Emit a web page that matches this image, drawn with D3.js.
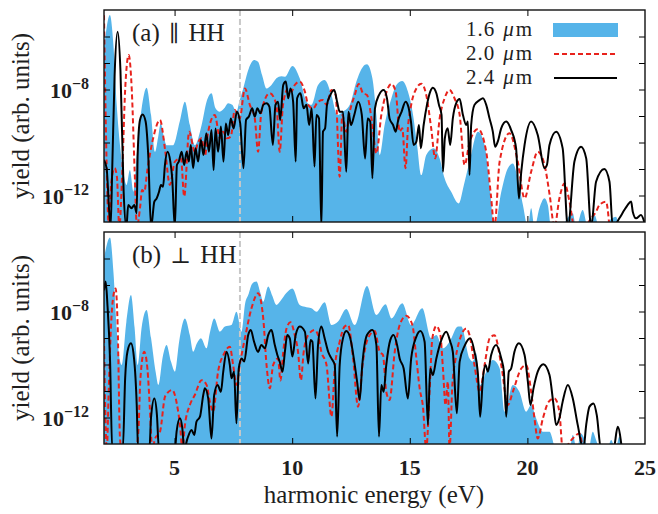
<!DOCTYPE html>
<html><head><meta charset="utf-8">
<script src="https://cdn.jsdelivr.net/npm/d3@7"></script>
<style>
body{margin:0;background:#fff}
svg{display:block}
text{font-family:"Liberation Serif","DejaVu Serif",serif;fill:#1e1e1e}
</style>
</head><body>
<svg id="c" width="658" height="514"></svg>
<script>
// ---- data: [harmonic energy (eV), log10 yield] ----
const aBlue=[[2.0,-6.5],[2.25,-5.19],[2.40,-6.32],[2.54,-8.58],[2.68,-10.1],[2.82,-11.1],[2.96,-11.6],[3.10,-11.04],[3.25,-11.86],[3.39,-10.47],[3.60,-8.71],[3.81,-7.93],[4.0,-8.96],[4.17,-10.35],[4.30,-9.8],[4.41,-9.28],[4.55,-9.8],[4.66,-10.1],[4.94,-10.1],[5.22,-9.21],[5.44,-8.46],[5.65,-9.34],[5.86,-10.1],[6.15,-9.34],[6.36,-8.46],[6.57,-8.14],[6.74,-8.71],[6.92,-8.84],[7.11,-8.71],[7.28,-8.52],[7.45,-8.58],[7.63,-8.84],[7.77,-8.4],[7.92,-7.96],[8.16,-7.2],[8.38,-6.89],[8.55,-6.95],[8.72,-7.45],[8.91,-7.96],[9.12,-7.83],[9.33,-7.58],[9.54,-7.5],[9.69,-7.52],[10.01,-7.11],[10.32,-7.58],[10.61,-8.46],[10.82,-8.58],[11.10,-7.83],[11.38,-7.64],[11.67,-8.21],[11.91,-8.96],[12.16,-8.84],[12.45,-8.58],[12.73,-7.7],[13.01,-7.14],[13.18,-7.05],[13.41,-7.58],[13.58,-8.96],[13.72,-10.47],[13.93,-9.34],[14.22,-8.33],[14.43,-7.83],[14.68,-7.68],[14.92,-8.08],[15.14,-8.96],[15.31,-10.09],[15.49,-11.23],[15.70,-10.47],[16.01,-10.22],[16.27,-10.6],[16.48,-11.35],[16.76,-11.86],[17.08,-12.3],[17.30,-11.6],[17.54,-10.72],[17.90,-9.59],[18.18,-10.09],[18.39,-11.6],[18.60,-13.2],[18.89,-11.86],[19.17,-10.97],[19.38,-10.79],[19.59,-11.35],[19.81,-12.36],[20.02,-13.2],[20.16,-12.48],[20.30,-13.2],[20.51,-12.48],[20.73,-12.1],[20.87,-12.36],[21.01,-13.2],[21.36,-13.2],[21.93,-12.67],[22.07,-13.2],[22.35,-12.55],[22.57,-13.2],[22.85,-12.74],[23.06,-13.2],[23.77,-12.8],[23.91,-13.2],[25,-13.2]];
const aRed=[[2.0,-5.2],[2.06,-8.5],[2.13,-11.5],[2.2,-13.2],[2.3,-11.6],[2.45,-10.97],[2.55,-11.3],[2.65,-13.2],[2.78,-11.0],[2.9,-8.0],[3.05,-6.70],[3.18,-8.0],[3.3,-11.0],[3.4,-13.2],[3.53,-12.48],[3.62,-11.79],[3.71,-11.86],[3.85,-11.0],[4.1,-9.8],[4.38,-9.15],[4.6,-10.3],[4.8,-11.6],[5.015,-10.72],[5.27,-10.6],[5.41,-12.04],[5.62,-9.59],[5.86,-10.35],[6.0,-10.0],[6.15,-9.84],[6.29,-10.5],[6.43,-9.59],[6.71,-8.96],[6.93,-9.84],[7.07,-9.59],[7.21,-9.84],[7.39,-9.78],[7.56,-8.77],[7.77,-9.09],[7.99,-7.96],[8.2,-8.58],[8.41,-9.09],[8.55,-10.35],[8.69,-8.84],[9.05,-8.14],[9.33,-8.58],[9.47,-10.35],[9.61,-8.58],[9.83,-7.96],[9.97,-8.08],[10.11,-7.83],[10.32,-7.70],[10.54,-8.08],[10.68,-8.58],[10.89,-8.71],[11.10,-8.46],[11.31,-8.40],[11.46,-8.58],[11.67,-8.02],[11.85,-8.21],[12.02,-11.29],[12.13,-8.96],[12.30,-9.59],[12.45,-8.84],[12.66,-8.21],[12.83,-7.79],[13.01,-8.14],[13.18,-8.21],[13.37,-9.09],[13.58,-10.41],[13.79,-8.96],[13.97,-8.21],[14.22,-7.79],[14.40,-8.08],[14.57,-9.59],[14.68,-9.46],[14.82,-10.97],[14.92,-9.46],[15.06,-8.58],[15.28,-7.96],[15.49,-7.78],[15.70,-8.21],[15.91,-9.46],[16.08,-10.6],[16.27,-9.09],[16.48,-8.33],[16.69,-8.02],[16.90,-8.33],[17.12,-8.96],[17.33,-10.85],[17.54,-10.0],[17.90,-9.49],[18.25,-10.35],[18.45,-12.0],[18.60,-13.2],[18.82,-10.72],[19.24,-9.65],[19.59,-10.72],[19.88,-12.11],[20.16,-11.1],[20.44,-10.35],[20.73,-10.85],[20.95,-12.0],[21.15,-13.2],[21.36,-12.11],[21.58,-11.54],[21.79,-12.23],[22.0,-13.2],[22.4,-13.2],[22.71,-12.86],[22.92,-12.61],[23.06,-12.36],[23.34,-12.23],[23.49,-13.2]];
const aBlack=[[2.0,-10.66],[2.11,-10.97],[2.28,-13.2],[2.35,-11.0],[2.45,-7.5],[2.58,-5.82],[2.70,-7.3],[2.835,-11.86],[2.95,-13.2],[3.03,-12.36],[3.17,-12.48],[3.29,-12.36],[3.39,-12.67],[3.43,-10.47],[3.53,-9.15],[3.64,-8.94],[3.77,-9.21],[3.88,-10.47],[4.0,-13.2],[4.14,-12.23],[4.24,-12.11],[4.34,-11.86],[4.42,-11.6],[4.51,-11.67],[4.59,-10.85],[4.70,-10.35],[4.82,-10.72],[4.90,-11.35],[5.01,-13.2],[5.10,-10.85],[5.18,-10.72],[5.30,-10.35],[5.41,-10.85],[5.51,-10.35],[5.61,-10.72],[5.69,-10.09],[5.79,-10.97],[5.89,-10.22],[6.00,-10.72],[6.12,-9.91],[6.23,-10.47],[6.35,-9.65],[6.46,-10.35],[6.57,-9.53],[6.66,-11.04],[6.74,-9.47],[6.85,-10.35],[6.97,-9.4],[7.08,-10.72],[7.18,-9.28],[7.28,-9.72],[7.39,-9.09],[7.51,-9.47],[7.65,-8.84],[7.79,-9.28],[7.93,-10.97],[8.04,-9.15],[8.16,-9.02],[8.30,-8.71],[8.41,-9.02],[8.52,-8.71],[8.65,-8.9],[8.77,-8.58],[8.91,-8.52],[9.03,-8.65],[9.18,-10.09],[9.29,-8.58],[9.40,-8.46],[9.49,-9.15],[9.62,-7.83],[9.73,-7.70],[9.83,-8.33],[9.93,-7.96],[10.04,-8.46],[10.15,-10.72],[10.21,-8.33],[10.35,-8.14],[10.49,-8.71],[10.61,-8.58],[10.72,-9.34],[10.83,-8.71],[10.95,-10.91],[11.03,-8.96],[11.14,-9.09],[11.24,-13.2],[11.31,-9.59],[11.40,-9.46],[11.48,-8.58],[11.62,-8.21],[11.79,-8.02],[11.91,-8.46],[12.02,-8.84],[12.16,-8.84],[12.30,-11.1],[12.39,-8.84],[12.50,-9.34],[12.64,-8.96],[12.81,-8.46],[12.96,-8.96],[13.10,-10.6],[13.21,-9.09],[13.32,-9.21],[13.41,-11.35],[13.52,-8.71],[13.69,-8.21],[13.89,-8.02],[14.03,-8.33],[14.14,-9.09],[14.29,-9.34],[14.40,-9.59],[14.51,-9.15],[14.65,-8.84],[14.82,-8.46],[14.94,-8.65],[15.05,-9.21],[15.16,-10.09],[15.28,-9.97],[15.39,-9.34],[15.47,-10.22],[15.59,-9.34],[15.73,-8.58],[15.87,-8.08],[15.98,-7.93],[16.13,-8.14],[16.24,-8.58],[16.35,-8.96],[16.41,-11.1],[16.49,-9.84],[16.61,-9.46],[16.72,-10.09],[16.83,-9.09],[16.97,-8.52],[17.12,-8.36],[17.26,-8.96],[17.40,-9.34],[17.47,-9.21],[17.54,-11.23],[17.61,-9.34],[17.75,-8.58],[17.97,-8.40],[18.11,-8.33],[18.25,-8.58],[18.39,-9.09],[18.53,-9.59],[18.63,-10.16],[18.74,-9.97],[18.89,-9.46],[19.10,-9.21],[19.31,-9.53],[19.52,-10.22],[19.64,-12.11],[19.74,-11.1],[19.88,-10.09],[20.16,-9.21],[20.44,-9.72],[20.73,-10.97],[20.83,-10.85],[20.94,-10.09],[21.22,-9.59],[21.50,-10.22],[21.72,-13.2],[22.0,-10.72],[22.28,-10.16],[22.50,-10.6],[22.71,-13.2],[22.92,-11.48],[23.27,-11.0],[23.49,-11.48],[23.63,-13.2],[23.91,-12.86],[24.12,-12.55],[24.26,-12.36],[24.41,-12.23],[24.48,-12.61],[24.62,-12.86],[24.83,-12.74],[24.97,-13.0]];

const bBlue=[[2.0,-6.0],[2.255,-5.21],[2.4,-6.5],[2.55,-8.8],[2.75,-10.02],[2.95,-8.4],[3.146,-7.38],[3.3,-8.6],[3.43,-10.02],[3.6,-8.6],[3.81,-7.94],[4.0,-9.0],[4.2,-10.3],[4.31,-10.77],[4.5,-9.7],[4.66,-9.26],[4.85,-9.9],[5.015,-10.27],[5.2,-9.1],[5.44,-8.26],[5.65,-8.9],[5.79,-9.52],[5.95,-9.2],[6.12,-9.01],[6.36,-9.39],[6.5,-8.8],[6.685,-8.26],[6.93,-8.76],[7.14,-8.57],[7.42,-8.51],[7.63,-8.01],[7.85,-8.76],[8.0,-7.7],[8.13,-7.38],[8.3,-6.95],[8.48,-6.87],[8.65,-7.3],[8.77,-7.63],[8.98,-7.06],[9.15,-7.4],[9.33,-7.75],[9.5,-7.6],[9.75,-7.3],[10.01,-7.13],[10.32,-7.75],[10.54,-7.82],[10.82,-7.88],[11.03,-8.01],[11.38,-7.65],[11.67,-8.51],[11.95,-8.38],[12.30,-7.91],[12.66,-8.51],[13.18,-7.04],[13.58,-8.13],[13.97,-7.73],[14.22,-8.26],[14.68,-7.69],[15.06,-8.51],[15.53,-7.88],[15.91,-9.01],[16.13,-8.89],[16.41,-9.39],[16.69,-9.14],[17.05,-8.57],[17.19,-8.57],[17.54,-9.77],[17.68,-9.89],[17.82,-9.58],[17.99,-10.77],[18.25,-10.27],[18.53,-9.83],[18.82,-10.14],[19.03,-11.78],[19.38,-10.77],[19.66,-11.03],[19.95,-11.78],[20.16,-11.53],[20.37,-12.03],[20.66,-12.54],[20.94,-12.54],[21.22,-13.2],[21.8,-13.2],[21.93,-12.66],[22.1,-13.2],[22.28,-12.6],[22.42,-12.79],[22.6,-13.2],[22.78,-12.54],[22.92,-12.85],[23.1,-13.2],[23.4,-13.2],[23.56,-12.85],[23.75,-13.2],[23.91,-12.72],[24.05,-13.2],[25,-13.2]];
const bRed=[[2.0,-9.0],[2.06,-12.0],[2.12,-13.2],[2.2,-11.0],[2.3,-8.5],[2.40,-7.4],[2.495,-7.13],[2.58,-8.5],[2.68,-12.79],[2.75,-13.2],[3.35,-13.2],[3.46,-12.54],[3.55,-10.5],[3.71,-9.52],[3.85,-10.2],[3.95,-11.65],[4.05,-13.2],[4.17,-12.8],[4.38,-12.54],[4.6,-11.2],[4.9,-10.96],[5.1,-11.5],[5.23,-12.28],[5.33,-13.2],[5.44,-12.28],[5.65,-11.53],[5.86,-11.15],[6.15,-10.59],[6.36,-10.77],[6.5,-11.4],[6.64,-11.78],[6.85,-10.27],[7.1,-9.6],[7.35,-9.33],[7.49,-10.02],[7.63,-10.77],[7.77,-10.02],[7.99,-9.01],[8.27,-7.88],[8.55,-7.31],[8.77,-8.26],[8.91,-10.02],[9.05,-10.9],[9.19,-10.02],[9.40,-9.77],[9.50,-10.6],[9.62,-9.52],[9.76,-8.64],[9.93,-8.41],[10.11,-8.89],[10.25,-9.52],[10.37,-10.59],[10.49,-9.52],[10.68,-8.89],[10.96,-8.70],[11.10,-8.89],[11.24,-9.52],[11.46,-10.02],[11.67,-11.97],[11.81,-10.15],[12.02,-9.14],[12.23,-8.57],[12.38,-8.51],[12.59,-9.77],[12.80,-11.59],[13.01,-9.89],[13.22,-9.01],[13.51,-8.74],[13.72,-9.52],[13.86,-9.64],[14.0,-11.03],[14.14,-11.34],[14.36,-9.52],[14.57,-8.51],[14.85,-8.16],[15.11,-8.51],[15.28,-9.77],[15.42,-10.90],[15.56,-11.59],[15.70,-13.2],[15.84,-11.03],[15.96,-9.01],[16.13,-8.55],[16.30,-8.89],[16.41,-10.15],[16.52,-11.53],[16.62,-10.65],[16.69,-13.2],[16.81,-10.77],[16.95,-9.77],[17.19,-8.89],[17.40,-8.64],[17.54,-8.89],[17.75,-10.02],[17.97,-11.03],[18.18,-10.02],[18.40,-9.0],[18.60,-8.9],[18.89,-10.02],[19.17,-11.53],[19.38,-11.03],[19.74,-10.15],[19.95,-10.02],[20.16,-11.03],[20.30,-12.03],[20.44,-12.79],[20.66,-12.03],[20.91,-11.4],[21.15,-11.28],[21.36,-11.78],[21.5,-13.2],[21.93,-12.79],[22.21,-12.6],[22.35,-13.2]];
const bBlack=[[2.0,-7.2],[2.07,-6.87],[2.15,-7.8],[2.255,-9.77],[2.35,-13.2],[2.80,-13.2],[2.9,-10.5],[3.0,-9.5],[3.146,-9.2],[3.28,-9.8],[3.39,-11.5],[3.45,-13.2],[3.93,-13.2],[4.0,-12.0],[4.14,-11.28],[4.25,-11.9],[4.335,-13.2],[5.015,-13.2],[5.085,-12.54],[5.23,-12.03],[5.33,-12.41],[5.41,-13.2],[5.55,-12.79],[5.72,-12.47],[5.84,-12.66],[5.93,-12.16],[6.08,-11.97],[6.22,-11.15],[6.29,-10.9],[6.43,-11.28],[6.57,-12.79],[6.685,-11.15],[6.83,-10.77],[6.97,-11.03],[7.07,-10.27],[7.21,-9.52],[7.35,-10.02],[7.42,-10.52],[7.53,-10.27],[7.63,-12.22],[7.73,-10.15],[7.85,-9.77],[7.96,-9.89],[8.13,-8.89],[8.24,-8.7],[8.38,-9.14],[8.55,-9.52],[8.69,-9.26],[8.84,-9.39],[8.98,-8.89],[9.12,-8.7],[9.26,-9.26],[9.37,-9.64],[9.47,-9.89],[9.59,-10.27],[9.69,-9.52],[9.79,-8.89],[9.90,-9.01],[10.01,-9.70],[10.15,-8.89],[10.32,-8.57],[10.54,-8.76],[10.68,-9.96],[10.78,-9.08],[10.86,-9.14],[10.99,-11.28],[11.10,-9.26],[11.24,-8.57],[11.38,-9.01],[11.53,-9.52],[11.67,-9.77],[11.81,-10.02],[11.91,-12.72],[12.02,-10.02],[12.16,-9.01],[12.30,-8.74],[12.47,-9.01],[12.62,-9.77],[12.76,-10.65],[12.87,-11.34],[12.98,-10.02],[13.18,-8.89],[13.41,-8.70],[13.58,-9.26],[13.69,-12.72],[13.79,-10.77],[13.89,-11.03],[14.0,-10.02],[14.17,-9.08],[14.31,-8.89],[14.46,-9.26],[14.57,-9.77],[14.74,-10.15],[14.92,-11.28],[15.06,-9.77],[15.28,-8.95],[15.45,-8.74],[15.63,-9.14],[15.77,-12.28],[15.87,-10.15],[15.98,-10.4],[16.13,-9.77],[16.34,-9.08],[16.55,-8.76],[16.72,-9.14],[16.83,-9.52],[17.0,-11.84],[17.12,-9.89],[17.33,-9.3],[17.57,-9.01],[17.75,-9.52],[17.90,-10.4],[17.99,-11.97],[18.11,-10.52],[18.22,-10.02],[18.32,-10.27],[18.46,-9.64],[18.67,-9.26],[18.89,-9.77],[19.0,-10.27],[19.1,-11.97],[19.21,-10.27],[19.31,-10.15],[19.45,-9.52],[19.64,-9.2],[19.88,-9.64],[20.02,-10.65],[20.13,-11.53],[20.26,-10.9],[20.44,-10.27],[20.68,-9.99],[20.94,-10.4],[21.11,-11.53],[21.22,-12.28],[21.36,-12.03],[21.5,-11.4],[21.72,-10.77],[21.93,-11.28],[22.14,-12.28],[22.38,-13.2],[22.5,-12.28],[22.64,-11.59],[22.81,-11.47],[22.95,-11.91],[23.13,-13.2],[23.66,-13.2],[23.84,-12.35],[24.02,-13.2]];

const xDomain=[2,25];
const yExpDomain=[-13,-5];
const xTickValues=[5,10,15,20,25];
const yTickExps=[-12,-11,-10,-9,-8,-7,-6];
const yLabelExps=[-8,-12];
const gapLine=7.78;
const seriesNames=["1.6 μm","2.0 μm","2.4 μm"];
const panelTitles=[["(a) ","∥"," HH"],["(b) ","⊥"," HH"]];

// ---- drawing ----
const L=104,R=645;
const C_BLUE="#56b4e9",C_RED="#e8221c",C_BLACK="#000";
const svg=d3.select("#c");
const x=d3.scaleLinear().domain(xDomain).range([L,R]);
const panels=[
  {id:"a",top:10,bottom:222,blue:aBlue,red:aRed,black:aBlack,title:panelTitles[0],labels:false},
  {id:"b",top:232,bottom:444,blue:bBlue,red:bRed,black:bBlack,title:panelTitles[1],labels:true}
];
panels.forEach(p=>{
  const y=d3.scaleLog().domain(yExpDomain.map(e=>Math.pow(10,e))).range([p.bottom,p.top]);
  const ye=e=>y(Math.pow(10,e));
  svg.append("clipPath").attr("id","clip"+p.id).append("rect")
    .attr("x",L).attr("y",p.top).attr("width",R-L).attr("height",p.bottom-p.top);
  const g=svg.append("g").attr("clip-path","url(#clip"+p.id+")");
  const area=d3.area().x(d=>x(d[0])).y0(p.bottom+10).y1(d=>ye(d[1])).curve(d3.curveMonotoneX);
  const line=d3.line().x(d=>x(d[0])).y(d=>ye(d[1])).curve(d3.curveMonotoneX);
  g.append("path").datum(p.blue).attr("d",area).attr("fill",C_BLUE);
  g.append("line").attr("x1",x(gapLine)).attr("x2",x(gapLine)).attr("y1",p.top).attr("y2",p.bottom)
    .attr("stroke","#c8c8c8").attr("stroke-width",2).attr("stroke-dasharray","6,3");
  g.append("path").datum(p.red).attr("d",line).attr("fill","none").attr("stroke",C_RED)
    .attr("stroke-width",2).attr("stroke-dasharray","5,3");
  g.append("path").datum(p.black).attr("d",line).attr("fill","none").attr("stroke",C_BLACK)
    .attr("stroke-width",2);

  // axes (inward ticks on all sides)
  const xt=xTickValues.filter(v=>v<xDomain[1]);
  const yt=yTickExps.map(e=>Math.pow(10,e));
  const axB=svg.append("g").attr("transform",`translate(0,${p.bottom})`)
    .call(d3.axisBottom(x).tickValues(xt).tickSizeInner(-6).tickSizeOuter(0).tickFormat(""));
  const axT=svg.append("g").attr("transform",`translate(0,${p.top})`)
    .call(d3.axisTop(x).tickValues(xt).tickSizeInner(-6).tickSizeOuter(0).tickFormat(""));
  const axL=svg.append("g").attr("transform",`translate(${L},0)`)
    .call(d3.axisLeft(y).tickValues(yt).tickSizeInner(-6).tickSizeOuter(0).tickFormat(""));
  const axR=svg.append("g").attr("transform",`translate(${R},0)`)
    .call(d3.axisRight(y).tickValues(yt).tickSizeInner(-6).tickSizeOuter(0).tickFormat(""));
  [axB,axT,axL,axR].forEach(a=>{a.select(".domain").remove();a.selectAll("line").attr("stroke","#000").attr("stroke-width",1);});
  svg.append("rect").attr("x",L).attr("y",p.top).attr("width",R-L).attr("height",p.bottom-p.top)
    .attr("fill","none").attr("stroke","#111").attr("stroke-width",1.4);

  // y tick labels with superscripts
  yLabelExps.forEach(e=>{
    const t=svg.append("text").attr("x",89).attr("y",ye(e)+8).attr("text-anchor","end")
      .attr("font-size",22).attr("font-weight","bold");
    t.append("tspan").text("10");
    t.append("tspan").attr("dy",-9).attr("font-size",16).text("−"+Math.abs(e));
  });
  // y title
  svg.append("text").attr("transform",`translate(29,${(p.top+p.bottom)/2}) rotate(-90)`)
    .attr("text-anchor","middle").attr("font-size",25).text("yield (arb. units)");
  // panel title
  const pt=svg.append("text").attr("x",132).attr("y",p.top+31).attr("font-size",25).attr("word-spacing",3);
  pt.append("tspan").text(p.title[0]);
  pt.append("tspan").attr("font-family","DejaVu Serif").attr("font-size",22).text(p.title[1]);
  pt.append("tspan").text(p.title[2]);

  if(p.labels){
    xTickValues.forEach(v=>{
      svg.append("text").attr("x",x(v)).attr("y",p.bottom+31).attr("text-anchor","middle")
        .attr("font-size",22).attr("font-weight","bold").text(d3.format("d")(v));
    });
  }
});

// x title
svg.append("text").attr("x",374).attr("y",503).attr("text-anchor","middle").attr("font-size",25)
  .text("harmonic energy (eV)");

// legend (pieces laid out side by side; rows spaced so their boxes do not overlap)
const lg=svg.append("g");
const rows=[36,60,84];
const LF=21;
seriesNames.forEach((n,i)=>{
  const [num,unit]=n.split(" ");
  let xx=466;
  const t1=lg.append("text").attr("x",xx).attr("y",rows[i]).attr("font-size",LF).attr("letter-spacing",1).text(num);
  xx+=t1.node().getComputedTextLength()+8;
  const t2=lg.append("text").attr("x",xx).attr("y",rows[i]).attr("font-size",LF).attr("font-style","italic").text(unit[0]);
  xx+=t2.node().getComputedTextLength()+2;
  lg.append("text").attr("x",xx).attr("y",rows[i]).attr("font-size",LF).text(unit.slice(1));
});
lg.append("rect").attr("x",553).attr("y",23).attr("width",65).attr("height",14).attr("fill",C_BLUE);
lg.append("line").attr("x1",554).attr("x2",617).attr("y1",54).attr("y2",54)
  .attr("stroke",C_RED).attr("stroke-width",2).attr("stroke-dasharray","5,3");
lg.append("line").attr("x1",554).attr("x2",617).attr("y1",78).attr("y2",78)
  .attr("stroke",C_BLACK).attr("stroke-width",2);
</script>
</body></html>
